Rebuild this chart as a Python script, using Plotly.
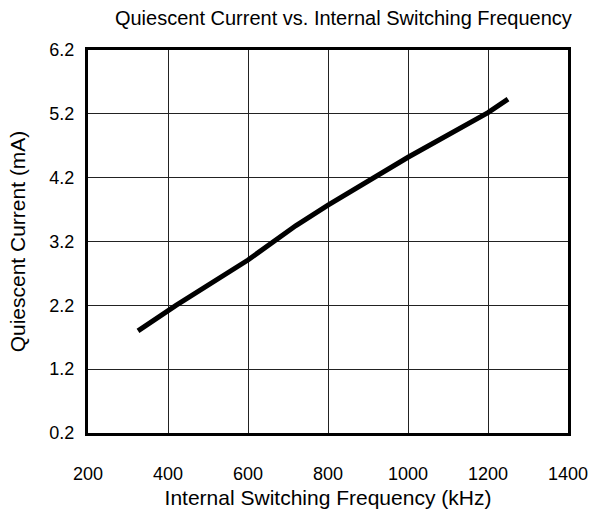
import plotly.graph_objects as go

# Quiescent current measured against internal switching frequency
freq_khz = [325, 420, 600, 720, 800, 1000, 1200, 1250]
current_ma = [1.80, 2.20, 2.91, 3.45, 3.77, 4.52, 5.22, 5.43]

x_ticks = [200, 400, 600, 800, 1000, 1200, 1400]
y_ticks = [0.2, 1.2, 2.2, 3.2, 4.2, 5.2, 6.2]

font_family = "Liberation Sans, Arial, sans-serif"

fig = go.Figure()
fig.add_trace(go.Scatter(
    x=freq_khz, y=current_ma, mode="lines",
    line=dict(color="black", width=5),
    showlegend=False,
))

axis_common = dict(
    showgrid=True, gridcolor="#222222", gridwidth=1,
    showline=True, linecolor="black", linewidth=3, mirror=True,
    ticks="", zeroline=False, automargin=False,
    tickfont=dict(family=font_family, size=18, color="black"),
)

fig.update_layout(
    width=592, height=511,
    margin=dict(l=88, r=24, t=50, b=78),
    paper_bgcolor="white", plot_bgcolor="white",
    title=dict(
        text="Quiescent Current vs. Internal Switching Frequency",
        xref="container", x=0.58, xanchor="center",
        yref="container", y=0.965, yanchor="middle",
        font=dict(family=font_family, size=20, color="black"),
    ),
    xaxis=dict(
        range=[200, 1400], tickvals=x_ticks, ticktext=[str(v) for v in x_ticks],
        ticklabelstandoff=22,
        title=dict(text="Internal Switching Frequency (kHz)",
                   font=dict(family=font_family, size=21, color="black"), standoff=8),
        **axis_common,
    ),
    yaxis=dict(
        range=[0.2, 6.2], tickvals=y_ticks, ticktext=[f"{v:.1f}" for v in y_ticks],
        ticklabelstandoff=7,
        title=dict(text="Quiescent Current (mA)",
                   font=dict(family=font_family, size=21, color="black"), standoff=19),
        **axis_common,
    ),
)

fig.write_html("out.html")
